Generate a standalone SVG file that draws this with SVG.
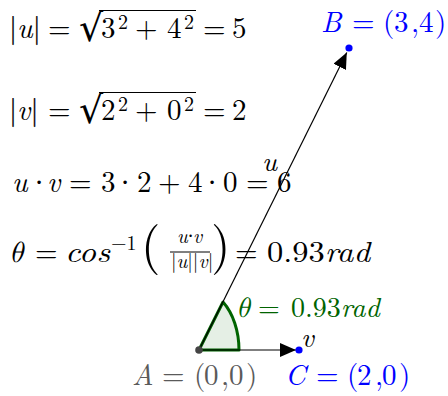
<svg xmlns="http://www.w3.org/2000/svg" width="448" height="396" viewBox="0 0 448 396">
<style>
text{font-size:29px;fill:#000}
.i{font-style:italic}
.s{font-size:20px}
.big{font-size:50px}
.rad{font-size:38px}
.lab{font-size:29px}
.blue{fill:#0000ff}
.grn{fill:#006400}
.gray{fill:#5a5a5a}
.bar{stroke:#000;stroke-width:0.25}
.vin{stroke:#000;stroke-width:1.2}
.vec{stroke:#000;stroke-width:1.2;fill:none}
</style>
<defs>
<marker id="ah" markerUnits="userSpaceOnUse" markerWidth="16" markerHeight="14" refX="16" refY="7" orient="auto">
<path d="M0,0 L16,7 L0,14 Z" fill="#000"/>
</marker>
</defs>
<rect width="448" height="396" fill="#fff"/>

<g id="formula-u-norm">
<text x="9" y="38" style="font-family:'Latin Modern Roman','Latin Modern Math','Liberation Serif',serif"><tspan class="bar">|</tspan><tspan class="i">u</tspan><tspan class="bar">|</tspan></text>
<text x="48" y="38" style="font-family:'Latin Modern Roman','Latin Modern Math','Liberation Serif',serif">=</text>
<text x="79" y="41" class="rad" style="font-family:'DejaVu Sans',sans-serif">√</text>
<line class="vin" x1="99" y1="10.5" x2="196" y2="10.5"/>
<text x="101" y="38" style="font-family:'Latin Modern Roman','Latin Modern Math','Liberation Serif',serif">3<tspan x="118" y="29" class="s">2</tspan><tspan x="135" y="38">+</tspan><tspan x="167" y="38">4</tspan><tspan x="184" y="29" class="s">2</tspan><tspan x="203" y="38">=</tspan><tspan x="232" y="38">5</tspan></text>
</g>

<g id="formula-v-norm">
<text x="9" y="120" style="font-family:'Latin Modern Roman','Latin Modern Math','Liberation Serif',serif"><tspan class="bar">|</tspan><tspan class="i">v</tspan><tspan class="bar">|</tspan></text>
<text x="48" y="120" style="font-family:'Latin Modern Roman','Latin Modern Math','Liberation Serif',serif">=</text>
<text x="79" y="123" class="rad" style="font-family:'DejaVu Sans',sans-serif">√</text>
<line class="vin" x1="99" y1="92.5" x2="196" y2="92.5"/>
<text x="101" y="120" style="font-family:'Latin Modern Roman','Latin Modern Math','Liberation Serif',serif">2<tspan x="118" y="111" class="s">2</tspan><tspan x="135" y="120">+</tspan><tspan x="167" y="120">0</tspan><tspan x="184" y="111" class="s">2</tspan><tspan x="203" y="120">=</tspan><tspan x="232" y="120">2</tspan></text>
</g>

<g id="formula-dot">
<text y="192" style="font-family:'Latin Modern Roman','Latin Modern Math','Liberation Serif',serif"><tspan x="12" class="i">u</tspan><tspan x="47" class="i">v</tspan><tspan x="69">=</tspan><tspan x="101">3</tspan><tspan x="137">2</tspan><tspan x="158">+</tspan><tspan x="188">4</tspan><tspan x="223">0</tspan><tspan x="246">=</tspan><tspan x="277">6</tspan></text>
<text y="192" text-anchor="middle" style="font-family:'Liberation Serif',serif"><tspan x="39">·</tspan><tspan x="125">·</tspan><tspan x="212">·</tspan></text>
</g>

<g id="formula-theta">
<text y="262" style="font-family:'Latin Modern Roman','Latin Modern Math','Liberation Serif',serif"><tspan x="9" class="i">θ</tspan><tspan x="35">=</tspan><tspan x="111" y="250" class="s">−1</tspan></text>
<text x="65" y="262" class="i" textLength="45" lengthAdjust="spacingAndGlyphs" style="font-family:'Latin Modern Roman','Latin Modern Math','Liberation Serif',serif">cos</text>
<text x="141" y="262" class="big" style="font-family:'Latin Modern Roman','Latin Modern Math','Liberation Serif',serif">(</text>
<text y="243" class="s" style="font-family:'Latin Modern Roman','Latin Modern Math','Liberation Serif',serif"><tspan x="177" class="i">u</tspan><tspan x="193" class="i">v</tspan></text>
<text x="190.5" y="243" class="s" text-anchor="middle" style="font-family:'Liberation Serif',serif">·</text>
<line x1="170" y1="252" x2="210" y2="252" stroke="#000" stroke-width="1"/>
<text x="171" y="268" class="s" style="font-family:'Latin Modern Roman','Latin Modern Math','Liberation Serif',serif">|<tspan class="i">u</tspan>||<tspan class="i">v</tspan>|</text>
<text x="211" y="262" class="big" style="font-family:'Latin Modern Roman','Latin Modern Math','Liberation Serif',serif">)</text>
<text x="235" y="262" style="font-family:'Latin Modern Roman','Latin Modern Math','Liberation Serif',serif">=</text>
<text x="267" y="262" textLength="103" lengthAdjust="spacingAndGlyphs" style="font-family:'Latin Modern Roman','Latin Modern Math','Liberation Serif',serif">0.93<tspan class="i">rad</tspan></text>
</g>

<g id="angle-theta">
<path d="M199,350 L239,350 A40,60 0 0 0 223,302 Z" fill="#006400" fill-opacity="0.1" stroke="#006400" stroke-width="3" stroke-linejoin="round"/>
<text y="317" class="grn" style="font-family:'Latin Modern Roman','Latin Modern Math','Liberation Serif',serif;font-size:28px"><tspan x="236" class="i">θ</tspan><tspan x="258">=</tspan><tspan x="291">0.93</tspan><tspan class="i">rad</tspan></text>
</g>

<g id="connectors">
<line id="vec-u" class="vec" x1="199" y1="350" x2="346.8" y2="52.5" marker-end="url(#ah)"/>
<line id="vec-v" class="vec" x1="199" y1="350" x2="296" y2="350" marker-end="url(#ah)"/>
<text x="262" y="171" class="i" style="font-family:'Latin Modern Roman','Latin Modern Math','Liberation Serif',serif;font-size:28px">u</text>
<text x="301" y="347" class="i" style="font-family:'Latin Modern Roman','Latin Modern Math','Liberation Serif',serif;font-size:28px">v</text>
</g>

<g id="point-A">
<circle cx="199" cy="350" r="3.8" fill="#444"/>
<text y="385" class="lab gray" style="font-family:'Latin Modern Roman','Latin Modern Math','Liberation Serif',serif"><tspan x="132" class="i">A</tspan><tspan x="162">=</tspan><tspan x="194">(</tspan><tspan x="204">0</tspan><tspan x="221">,</tspan><tspan x="229">0</tspan><tspan x="246">)</tspan></text>
</g>

<g id="point-B">
<circle cx="349" cy="48" r="3.6" fill="#0000ff"/>
<text y="32" class="lab blue" style="font-family:'Latin Modern Roman','Latin Modern Math','Liberation Serif',serif"><tspan x="321" class="i">B</tspan><tspan x="352">=</tspan><tspan x="383">(</tspan><tspan x="394">3</tspan><tspan x="411">,</tspan><tspan x="419">4</tspan><tspan x="435">)</tspan></text>
</g>

<g id="point-C">
<circle cx="299" cy="350" r="3.6" fill="#0000ff"/>
<text y="385" class="lab blue" style="font-family:'Latin Modern Roman','Latin Modern Math','Liberation Serif',serif"><tspan x="285" class="i">C</tspan><tspan x="316">=</tspan><tspan x="347">(</tspan><tspan x="357">2</tspan><tspan x="375">,</tspan><tspan x="382">0</tspan><tspan x="399">)</tspan></text>
</g>
</svg>
